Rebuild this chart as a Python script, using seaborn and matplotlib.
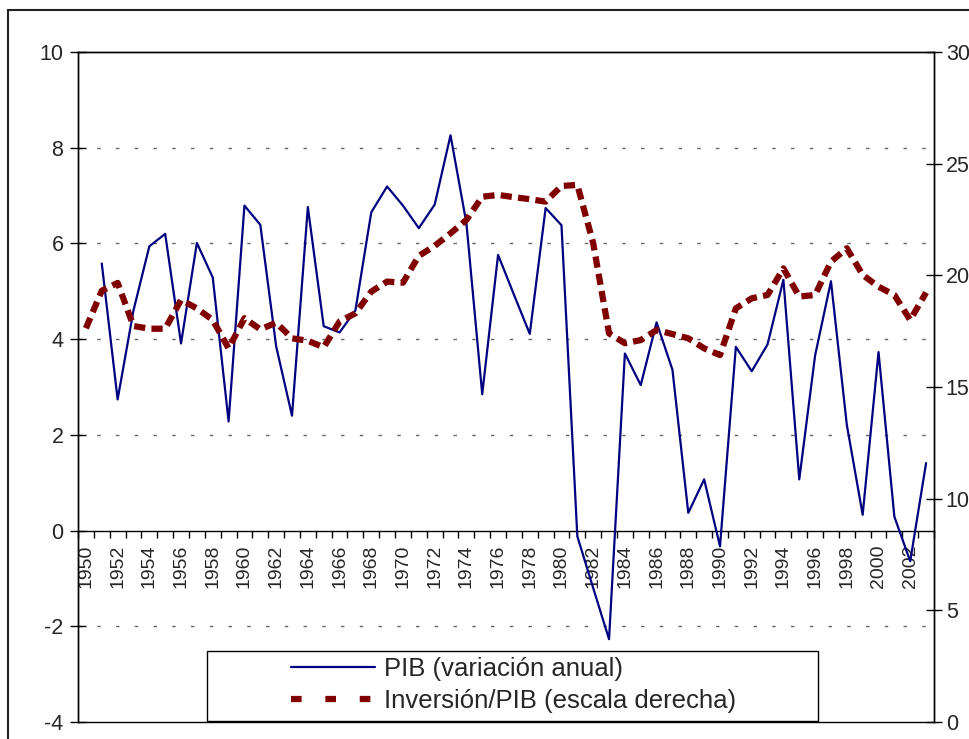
import matplotlib
matplotlib.use('Agg')
import matplotlib.pyplot as plt
import seaborn as sns
import pandas as pd
import numpy as np
from matplotlib.lines import Line2D
from matplotlib.patches import Rectangle

years = list(range(1950, 2004))
pib = [np.nan, 5.58, 2.74, 4.60, 5.94, 6.20, 3.91, 6.01, 5.29, 2.28,
       6.79, 6.39, 3.85, 2.40, 6.76, 4.27, 4.14, 4.60, 6.65, 7.19,
       6.79, 6.32, 6.81, 8.26, 6.43, 2.85, 5.76, 4.93, 4.11, 6.74,
       6.38, -0.12, -1.20, -2.27, 3.70, 3.04, 4.35, 3.36, 0.37, 1.07,
       -0.33, 3.84, 3.33, 3.89, 5.24, 1.07, 3.66, 5.21, 2.21, 0.33,
       3.73, 0.29, -0.64, 1.41]
inversion = [17.63, 19.31, 19.66, 17.73, 17.61, 17.61, 18.90, 18.52, 18.00, 16.73,
             18.08, 17.58, 17.88, 17.18, 17.07, 16.78, 17.93, 18.30, 19.27, 19.72,
             19.67, 20.87, 21.32, 21.88, 22.48, 23.52, 23.60, 23.50, 23.41, 23.30,
             24.00, 24.05, 21.44, 17.40, 16.96, 17.10, 17.55, 17.37, 17.18, 16.73,
             16.43, 18.52, 18.97, 19.12, 20.31, 19.05, 19.12, 20.61, 21.21, 20.02,
             19.49, 19.12, 18.00, 19.23]
label_pib = "PIB (variación anual)"
label_inv = "Inversión/PIB (escala derecha)"
left_ticks = list(range(-4, 11, 2))
right_ticks = list(range(0, 31, 5))
grid_levels = [-2, 2, 4, 6, 8]

sns.set_style('white')
plt.rcParams['font.family'] = ['Liberation Sans', 'DejaVu Sans']

df = pd.DataFrame({'year': years, 'pib': pib, 'inv': inversion})

fig = plt.figure(figsize=(9.69, 7.39), dpi=100)
ax = fig.add_axes([78/969, 17/739, 856/969, 670/739])

for v in grid_levels:
    ax.axhline(v, color='#666666', lw=1, linestyle=(0, (2.5, 11)), zorder=0)

sns.lineplot(data=df.dropna(subset=['pib']), x='year', y='pib', ax=ax,
             color='#000080', lw=1.6, zorder=3)
ax2 = ax.twinx()
sns.lineplot(data=df, x='year', y='inv', ax=ax2, color='#800000', lw=4.5, zorder=2)
ax2.lines[0].set_linestyle((0, (1.8, 1.0)))
ax2.lines[0].set_dash_capstyle('butt')

ax.set_xlim(1949.5, 2003.5)
ax.set_ylim(-4, 10)
ax2.set_ylim(0, 30)

ax.set_xticks(years[::2])
ax.set_xticklabels([str(y) for y in years[::2]])
ax.set_xticks(np.arange(1949.5, 2004, 1), minor=True)
ax.tick_params(axis='x', which='major', length=0, pad=10, labelrotation=90, labelsize=14)
ax.tick_params(axis='x', which='minor', length=5, width=1, direction='out', color='black', bottom=True)
ax.spines['bottom'].set_position(('data', 0))

ax.set_yticks(left_ticks)
ax.set_yticklabels([str(v) for v in left_ticks])
ax.tick_params(axis='y', direction='inout', length=11, width=1, labelsize=15.5, pad=5, color='black', left=True)
ax2.set_yticks(right_ticks)
ax2.set_yticklabels([str(v) for v in right_ticks])
ax2.tick_params(axis='y', direction='inout', length=11, width=1, labelsize=15.5, pad=3, color='black', right=True)

for a in (ax, ax2):
    for s in a.spines.values():
        s.set_color('black')
        s.set_linewidth(1)
ax.set_xlabel('')
ax.set_ylabel('')
ax2.set_ylabel('')
ax2.set_xlabel('')

handles = [Line2D([], [], color='#000080', lw=1.6),
           Line2D([], [], color='#800000', lw=4.5, linestyle=(0, (1.7, 3.8)), dash_capstyle='butt')]
fig.patches.append(Rectangle((207/969, 18/739), 611/969, 70/739, transform=fig.transFigure,
                             facecolor='white', edgecolor='black', lw=1, zorder=5))
leg = fig.legend(handles, [label_pib, label_inv], loc='center', bbox_to_anchor=(0.5296, 0.0731),
                 frameon=False, fontsize=18.5, handlelength=3.3, handletextpad=0.32, labelspacing=0.3)
leg.set_zorder(6)

fig.patches.append(Rectangle((8/969, -0.1), 1.2, 1 - 10/739 + 0.1, transform=fig.transFigure,
                             fill=False, edgecolor='#222222', lw=1.5, zorder=7))

fig.savefig('out.png', dpi=100)
